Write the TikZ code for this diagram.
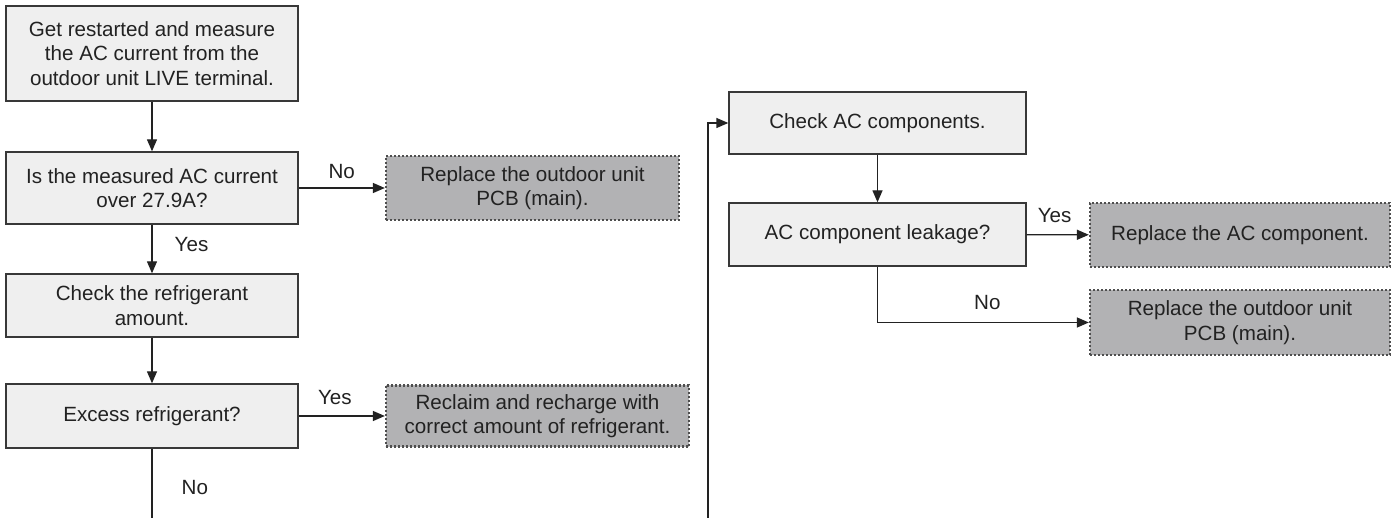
\documentclass[tikz,border=0pt]{standalone}
\usepackage{fontspec}
\setmainfont{Liberation Sans}
\usetikzlibrary{arrows.meta}
\definecolor{boxfill}{HTML}{EFEFEF}
\definecolor{dotfill}{HTML}{B2B2B4}
\definecolor{ink}{HTML}{222222}
\begin{document}
\begin{tikzpicture}[x=1pt,y=-1pt,
  every node/.style={text=ink,font=\fontsize{20.6}{24.5}\selectfont},
  stepbox/.style={draw=ink!90,line width=1.4pt,fill=boxfill,align=center,inner sep=0pt,minimum width=292pt},
  endbox/.style={draw=ink!80,line width=2.3pt,dash pattern=on 1.6pt off 2.4pt,fill=dotfill,align=center,inner sep=0pt},
  conn/.style={draw=ink,line width=1.4pt},
  arr/.style={conn,-{Triangle[length=12pt,width=10pt]}},
  lbl/.style={inner sep=0pt}]
\useasboundingbox (0,0) rectangle (1400,518);
\fill[white] (0,0) rectangle (1400,518);

\node[stepbox,minimum height=95pt] (b1) at (152,53.5) {Get restarted and measure\\the AC current from the\\outdoor unit LIVE terminal.};
\node[stepbox,minimum height=72pt] (b2) at (152,188) {Is the measured AC current\\over 27.9A?};
\node[stepbox,minimum height=63pt] (b3) at (152,305.5) {Check the refrigerant\\amount.};
\node[stepbox,minimum height=64pt] (b4) at (152,416) {Excess refrigerant?};

\node[endbox,minimum width=293pt,minimum height=64pt] (d1) at (532.5,188) {Replace the outdoor unit\\PCB (main).};
\node[endbox,minimum width=303pt,minimum height=61pt] (d2) at (537.5,416) {Reclaim and recharge with\\correct amount of refrigerant.};

\node[stepbox,minimum width=297pt,minimum height=62pt] (b5) at (877.5,123) {Check AC components.};
\node[stepbox,minimum width=297pt,minimum height=63pt] (b6) at (877.5,234.5) {AC component leakage?};

\node[endbox,minimum width=300pt,minimum height=64pt] (d3) at (1240,235) {Replace the AC component.};
\node[endbox,minimum width=300pt,minimum height=65pt] (d4) at (1240,322.5) {Replace the outdoor unit\\PCB (main).};

\coordinate (endL) at (152,520);
\coordinate (startR) at (708,520);

\draw[arr] (b1) -- (b2);
\draw[arr] (b2) -- node[lbl,right=22pt,pos=0.4]{Yes} (b3);
\draw[arr] (b2) -- node[lbl,above=9pt,pos=0.5]{No} (d1);
\draw[arr] (b3) -- (b4);
\draw[arr] (b4) -- node[lbl,above=11pt,pos=0.42]{Yes} (d2);
\draw[conn] (b4) -- node[lbl,right=29pt,pos=0.55]{No} (endL);

\draw[arr] (startR) |- (b5.west);
\draw[arr] (b5) -- (b6);
\draw[arr] (b6) -- node[lbl,above=11pt,pos=0.45]{Yes} (d3);
\draw[arr] (b6.south) |- node[lbl,above=12pt,pos=0.76]{No} (d4.west);
\end{tikzpicture}
\end{document}
